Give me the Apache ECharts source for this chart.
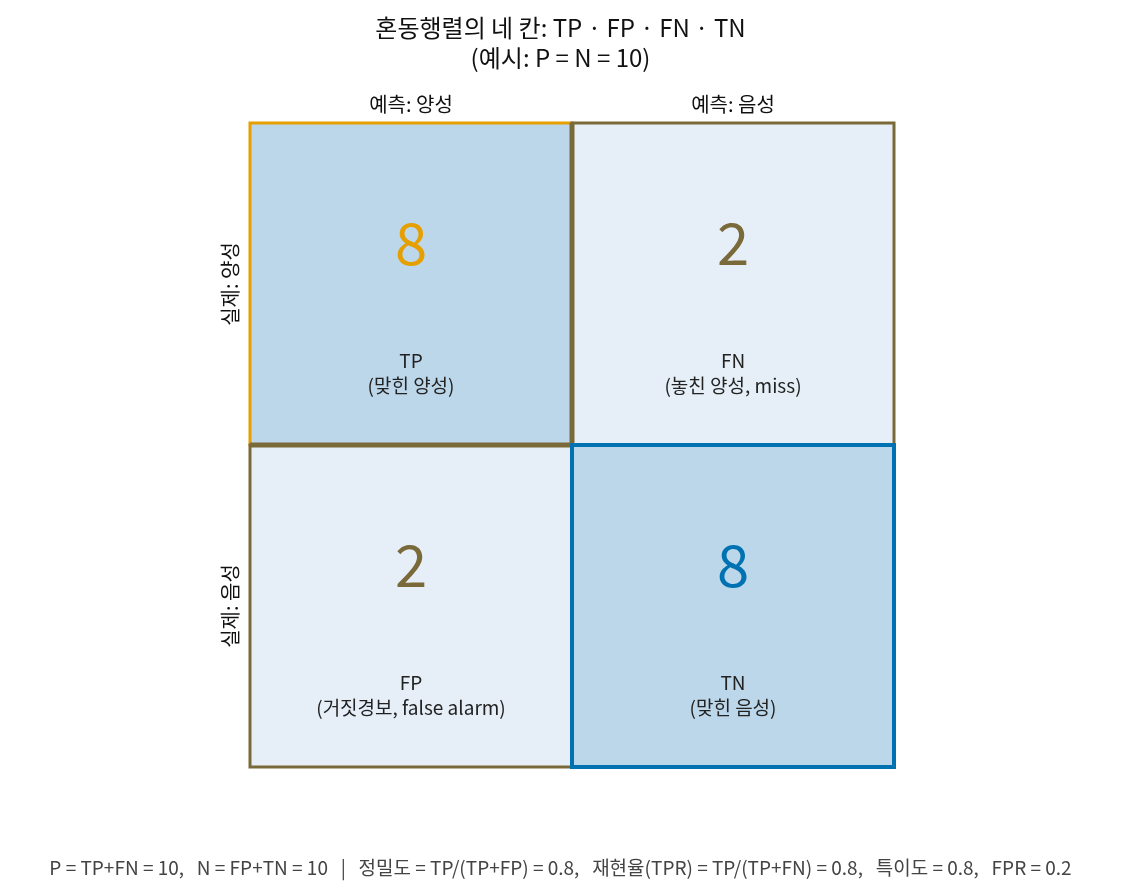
<!DOCTYPE html>
<html><head><meta charset="utf-8">
<script src="https://cdn.jsdelivr.net/npm/echarts@6/dist/echarts.min.js"></script>
<style>html,body{margin:0;padding:0;background:#fff}#chart{width:1121px;height:895px}</style>
</head><body><div id="chart"></div>
<script>
const predLabels = ['예측: 양성', '예측: 음성'];
const actualLabels = ['실제: 양성', '실제: 음성'];
// [col, row, count, name, desc]  (draw order: TP, FN, FP, TN)
const cells = [
  [0, 0, 8, 'TP', '(맞힌 양성)'],
  [1, 0, 2, 'FN', '(놓친 양성, miss)'],
  [0, 1, 2, 'FP', '(거짓경보, false alarm)'],
  [1, 1, 8, 'TN', '(맞힌 음성)']
];
const fillColors = ['#BDD7EA', '#E6EFF7', '#E6EFF7', '#BDD7EA'];
const borderColors = ['#E69F00', '#7A6A3A', '#7A6A3A', '#0072B2'];
const borderWidths = [3, 3, 3, 4];
const numColors = ['#E69F00', '#7A6A3A', '#7A6A3A', '#0072B2'];
const font = '"Noto Sans CJK KR", "Noto Sans", sans-serif';

const chart = echarts.init(document.getElementById('chart'));
chart.setOption({
  animation: false,
  textStyle: { fontFamily: font },
  title: {
    text: '혼동행렬의 네 칸: TP · FP · FN · TN\n(예시: P = N = 10)',
    left: 'center', top: 8,
    textStyle: { fontSize: 24, fontWeight: 'normal', color: '#111', lineHeight: 30, fontFamily: font }
  },
  grid: { left: 250, right: 227, top: 123, bottom: 128 },
  xAxis: {
    type: 'category', data: predLabels, position: 'top',
    axisLine: { show: false }, axisTick: { show: false },
    axisLabel: { fontSize: 20, color: '#111', margin: 9 }
  },
  yAxis: {
    type: 'category', data: actualLabels, inverse: true,
    axisLine: { show: false }, axisTick: { show: false },
    axisLabel: { fontSize: 20, color: '#111', rotate: 90, margin: 10 }
  },
  series: [{
    type: 'custom',
    data: cells,
    renderItem: function (params, api) {
      const i = params.dataIndex;
      const c = api.coord([api.value(0), api.value(1)]);
      const s = api.size([1, 1]);
      const children = [
        { type: 'rect', shape: { x: c[0] - s[0] / 2, y: c[1] - s[1] / 2, width: s[0], height: s[1] },
          style: { fill: fillColors[i], stroke: borderColors[i], lineWidth: borderWidths[i] } },
        { type: 'text', x: c[0], y: c[1] - 41,
          style: { text: String(cells[i][2]), fill: numColors[i], fontSize: 58, fontFamily: font,
            align: 'center', verticalAlign: 'middle' } },
        { type: 'text', x: c[0], y: c[1] + 89,
          style: { text: cells[i][3] + '\n' + cells[i][4], fill: '#222', fontSize: 19, lineHeight: 25,
            fontFamily: font, align: 'center', verticalAlign: 'middle' } }
      ];
      // shared edges with TP are drawn thicker
      if (i === 1) children.push({ type: 'line', shape: { x1: c[0] - s[0] / 2, y1: c[1] - s[1] / 2, x2: c[0] - s[0] / 2, y2: c[1] + s[1] / 2 },
        style: { stroke: borderColors[i], lineWidth: 5 } });
      if (i === 2) children.push({ type: 'line', shape: { x1: c[0] - s[0] / 2, y1: c[1] - s[1] / 2, x2: c[0] + s[0] / 2, y2: c[1] - s[1] / 2 },
        style: { stroke: borderColors[i], lineWidth: 5 } });
      return { type: 'group', children: children };
    }
  }],
  graphic: [{
    type: 'text', left: 'center', top: 858,
    style: { text: 'P = TP+FN = 10,   N = FP+TN = 10   |   정밀도 = TP/(TP+FP) = 0.8,   재현율(TPR) = TP/(TP+FN) = 0.8,   특이도 = 0.8,   FPR = 0.2',
      fill: '#444', fontSize: 19, fontFamily: font }
  }]
});
</script></body></html>
